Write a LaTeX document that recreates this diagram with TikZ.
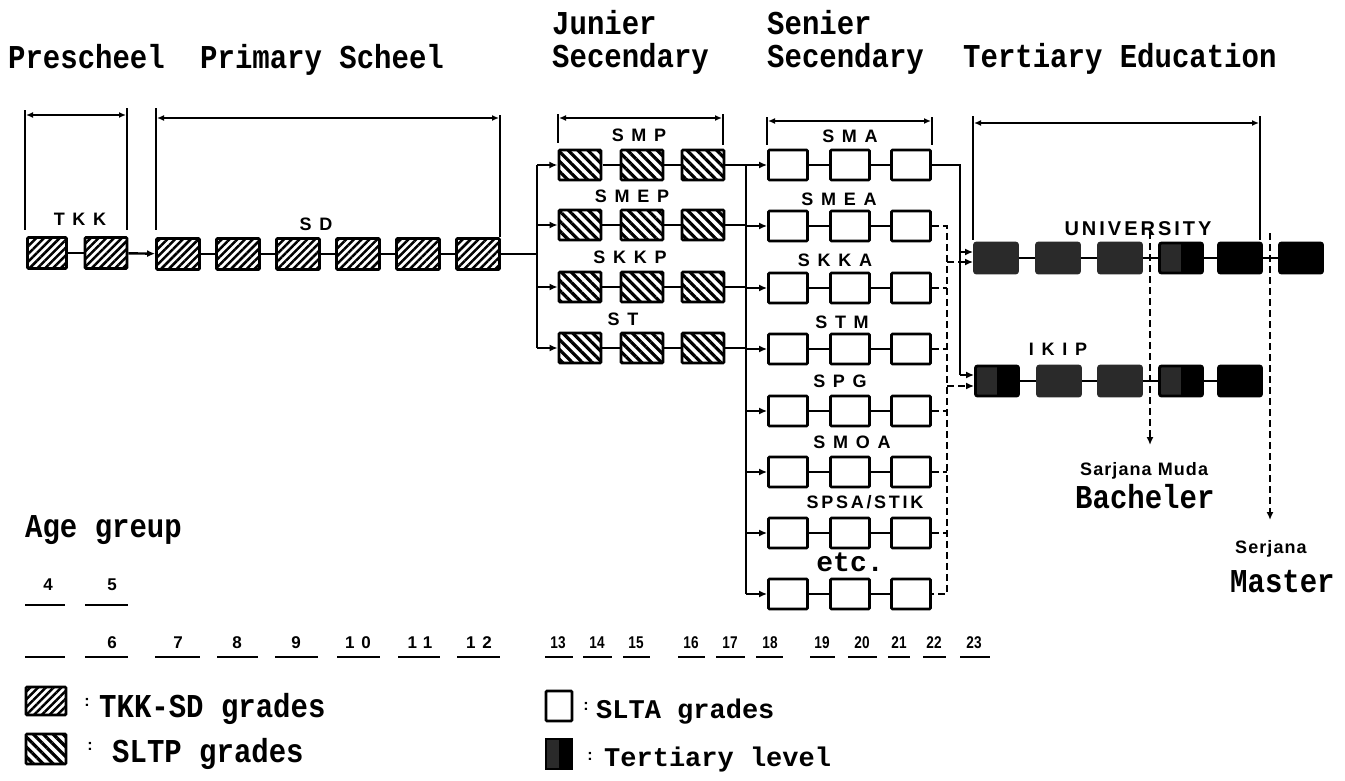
\documentclass[tikz,border=0pt]{standalone}
\usepackage{fontspec}
\usepackage{graphicx}
\setmainfont{Liberation Serif}
\newfontfamily\tw{Liberation Mono}
\newfontfamily\sa{Liberation Sans}
\usetikzlibrary{arrows.meta,patterns.meta}
\definecolor{tdark}{HTML}{2A2A2A}
\newcommand{\tallt}[1]{\scalebox{1}[1.15]{#1}}
\begin{document}
\begin{tikzpicture}[x=1pt,y=-1pt,
  hdr/.style={font=\tw\bfseries\fontsize{29}{30}\selectfont, anchor=base west, inner sep=0pt},
  lgs/.style={font=\tw\bfseries\fontsize{27}{28}\selectfont, anchor=base west, inner sep=0pt},
  lab/.style={font=\sa\bfseries\fontsize{18}{18}\selectfont\addfontfeature{LetterSpace=15}, anchor=base, inner sep=0pt},
  num/.style={font=\sa\bfseries\fontsize{17}{17}\selectfont, anchor=base, inner sep=0pt},
  cln/.style={font=\sa\bfseries\fontsize{16}{16}\selectfont, anchor=base, inner sep=0pt},
  bx/.style={draw=black, line width=2.8pt, inner sep=0pt, rounded corners=1pt, minimum height=30pt},
  tk/.style={bx, minimum width=42pt, minimum height=31pt, preaction={fill=white}, pattern={Lines[angle=45,distance=5.5pt,line width=2.5pt]}, pattern color=black},
  sl/.style={bx, minimum width=42pt, preaction={fill=white}, pattern={Lines[angle=-45,distance=7pt,line width=3.2pt]}, pattern color=black},
  sa/.style={bx, minimum width=39pt, fill=white},
  te/.style={bx, minimum width=43pt, minimum height=30pt, fill=tdark, draw=tdark, rounded corners=2pt},
  tb/.style={te, fill=black, draw=black},
  ts/.style={te, draw=black, path picture={\fill[black] (path picture bounding box.south) rectangle (path picture bounding box.north east);}},
  ln/.style={line width=2.4pt},
  ar/.style={ln, -{Latex[length=8pt,width=7pt]}},
  dl/.style={line width=2.4pt, dash pattern=on 7pt off 4pt},
  da/.style={dl, -{Latex[length=8pt,width=7pt]}},
  br/.style={line width=2.3pt},
  bra/.style={br, {Latex[length=7pt,width=6pt]}-{Latex[length=7pt,width=6pt]}},
  ul/.style={line width=2.4pt}
]
\useasboundingbox (0,0) rectangle (1345,780);

% ---------- headers ----------
\node[hdr] (hPre) at (8,68) {\tallt{Prescheel}};
\node[hdr] (hPri) at (200,68) {\tallt{Primary Scheel}};
\node[hdr] (hJun1) at (552,34) {\tallt{Junier}};
\node[hdr] (hJun2) at (552,67) {\tallt{Secendary}};
\node[hdr] (hSen1) at (767,34) {\tallt{Senier}};
\node[hdr] (hSen2) at (767,67) {\tallt{Secendary}};
\node[hdr] (hTer) at (963,67) {\tallt{Tertiary Education}};

% ---------- brackets ----------
\draw[br] (25,110) -- (25,230);
\draw[br] (127,108) -- (127,230);
\draw[bra] (26,115) -- (126,115);
\draw[br] (156,108) -- (156,230);
\draw[br] (500,115) -- (500,237);
\draw[bra] (157,118) -- (499,118);
\draw[br] (558,114) -- (558,143);
\draw[br] (723,114) -- (723,145);
\draw[bra] (559,118) -- (722,118);
\draw[br] (767,117) -- (767,145);
\draw[br] (932,117) -- (932,145);
\draw[bra] (768,121) -- (931,121);
\draw[br] (973,116) -- (973,240);
\draw[br] (1260,116) -- (1260,240);
\draw[bra] (974,123) -- (1259,123);

% ---------- preschool / primary ----------
\node[tk, minimum width=39pt] (tkk1) at (47,253) {};
\node[tk] (tkk2) at (106,253) {};
\foreach \i/\x in {1/178,2/238,3/298,4/358,5/418,6/478}
  \node[tk, minimum width=43pt] (sd\i) at (\x,254) {};
\node[lab] (lTKK) at (80,225) {T K K};
\node[lab] (lSD) at (316,230) {S D};
\draw[ln] (tkk1) -- (tkk2);
\draw[ar] (tkk2) -- (sd1);
\foreach \a/\b in {1/2,2/3,3/4,4/5,5/6} \draw[ln] (sd\a) -- (sd\b);

% ---------- junior secondary ----------
\foreach \r/\y in {smp/165,smep/225,skkp/287,st/348} {
  \foreach \i/\x in {1/580,2/642,3/703} \node[sl] (\r\i) at (\x,\y) {};
  \draw[ln] (\r1) -- (\r2);
  \draw[ln] (\r2) -- (\r3);
}
\node[lab] (lSMP) at (639,141) {S M P};
\node[lab] (lSMEP) at (632,202) {S M E P};
\node[lab] (lSKKP) at (630,263) {S K K P};
\node[lab] (lST) at (623,325) {S T};
\coordinate (jA) at (537,254);
\coordinate (jAt) at (537,165);
\coordinate (jAb) at (537,348);
\draw[ln] (sd6) -- (jA);
\draw[ln] (jAt) -- (jAb);
\foreach \r in {smp,smep,skkp,st} \draw[ar] (jA |- \r1) -- (\r1);

% ---------- senior secondary ----------
\foreach \r/\y in {sma/165,smea/226,skka/288,stm/349,spg/411,smoa/472,spsa/533,etcr/594} {
  \foreach \i/\x in {1/788,2/850,3/911} \node[sa] (\r\i) at (\x,\y) {};
  \draw[ln] (\r1) -- (\r2);
  \draw[ln] (\r2) -- (\r3);
}
\node[lab] (lSMA) at (850,142) {S M A};
\node[lab] (lSMEA) at (839,205) {S M E A};
\node[lab] (lSKKA) at (835,266) {S K K A};
\node[lab] (lSTM) at (842,328) {S T M};
\node[lab] (lSPG) at (840,387) {S P G};
\node[lab] (lSMOA) at (852,448) {S M O A};
\node[lab] (lSPSA) at (865,508) {SPSA/STIK};
\node[font=\tw\bfseries\fontsize{28}{28}\selectfont, anchor=base, inner sep=0pt] (lEtc) at (850,571) {etc.};

\coordinate (jB) at (746,165);
\coordinate (jBb) at (746,594);
\draw[ar] (smp3) -- (sma1);
\draw[ln] (jB) -- (jBb);
\foreach \r in {smep,skkp,st} \draw[ln] (\r3) -- (jB |- \r3);
\foreach \r in {smea,skka,stm,spg,smoa,spsa,etcr} \draw[ar] (jB |- \r1) -- (\r1);

% ---------- tertiary ----------
\node[te] (uni1) at (996,258) {};
\node[te] (uni2) at (1058,258) {};
\node[te] (uni3) at (1120,258) {};
\node[ts] (uni4) at (1181,258) {};
\node[tb] (uni5) at (1240,258) {};
\node[tb] (uni6) at (1301,258) {};
\node[ts] (ikip1) at (997,381) {};
\node[te] (ikip2) at (1059,381) {};
\node[te] (ikip3) at (1120,381) {};
\node[ts] (ikip4) at (1181,381) {};
\node[tb] (ikip5) at (1240,381) {};
\foreach \a/\b in {1/2,2/3,3/4,4/5,5/6} \draw[ln] (uni\a) -- (uni\b);
\foreach \a/\b in {1/2,2/3,3/4,4/5} \draw[ln] (ikip\a) -- (ikip\b);
\node[lab, font=\sa\bfseries\fontsize{20}{20}\selectfont\addfontfeature{LetterSpace=15}] (lUNI) at (1138,235) {UNIVERSITY};
\node[lab] (lIKIP) at (1058,355) {I K I P};

\coordinate (kA) at (960,165);
\coordinate (kU) at (960,252);
\coordinate (kB) at (960,375);
\draw[ln] (sma3) -- (kA) -- (kB);
\draw[ar] (kU) -- (uni1.west |- kU);
\draw[ar] (kB) -- (ikip1.west |- kB);

\coordinate (dA) at (947,226);
\coordinate (dU) at (947,262);
\coordinate (dI) at (947,386);
\coordinate (dB) at (947,594);
\draw[dl] (smea3) -- (dA) -- (dB) -- (etcr3);
\foreach \r in {skka,stm,spg,smoa,spsa} \draw[dl] (\r3) -- (dA |- \r3);
\draw[da] (dU) -- (uni1.west |- dU);
\draw[da] (dI) -- (ikip1.west |- dI);

% degrees
\coordinate (bT) at (1150,232);
\coordinate (bE) at (1150,445);
\draw[da] (bT) -- (bE);
\coordinate (mT) at (1270,233);
\coordinate (mE) at (1270,520);
\draw[da] (mT) -- (mE);
\node[font=\sa\bfseries\fontsize{18}{18}\selectfont\addfontfeature{LetterSpace=6}, anchor=base west, inner sep=0pt] (lSM) at (1080,475) {Sarjana Muda};
\node[hdr] (lBach) at (1075,508) {\tallt{Bacheler}};
\node[font=\sa\bfseries\fontsize{18}{18}\selectfont\addfontfeature{LetterSpace=6}, anchor=base west, inner sep=0pt] (lSj) at (1235,553) {Serjana};
\node[hdr] (lMas) at (1230,592) {\tallt{Master}};

% ---------- age groups ----------
\node[hdr] (lAge) at (25,537) {\tallt{Age greup}};
\node[num] (a4) at (48,590) {4};
\node[num] (a5) at (112,590) {5};
\draw[ul] (25,605) -- (65,605);
\draw[ul] (85,605) -- (128,605);
\foreach \n/\x/\l/\r in {6/112/85/128,7/178/155/200,8/237/217/258,9/296/275/318}
  {\node[num] (a\n) at (\x,648) {\n}; \draw[ul] (\l,657) -- (\r,657);}
\foreach \n/\x/\l/\r in {10/358/337/380,11/420/398/440,12/479/457/500}
  {\node[num, font=\sa\bfseries\fontsize{17}{17}\selectfont\addfontfeature{LetterSpace=40}] (a\n) at (\x,648) {\n}; \draw[ul] (\l,657) -- (\r,657);}
\draw[ul] (25,657) -- (65,657);
\foreach \n/\x/\l/\r in {13/558/545/573,14/597/583/612,15/636/623/650,16/691/678/705,17/730/716/745,18/770/756/783,19/822/810/835,20/862/848/877,21/899/888/910,22/934/923/946,23/974/960/990}
  {\node[num] (a\n) at (\x,648) {\scalebox{0.8}[1]{\n}}; \draw[ul] (\l,657) -- (\r,657);}

% ---------- legend ----------
\node[tk, minimum width=40pt, minimum height=28pt] (lgA) at (46,701) {};
\node[sl, minimum width=40pt, minimum height=30pt] (lgB) at (46,749) {};
\node[sa, minimum width=26pt, minimum height=30pt] (lgC) at (559,706) {};
\node[ts, minimum width=26pt, minimum height=30pt, rounded corners=0pt] (lgD) at (559,754) {};
\node[cln] (cA) at (87,706) {:};
\node[cln] (cB) at (90,750) {:};
\node[cln] (cC) at (586,710) {:};
\node[cln] (cD) at (590,760) {:};
\node[hdr] (tA) at (99,717) {\tallt{TKK-SD grades}};
\node[hdr] (tB) at (112,762) {\tallt{SLTP grades}};
\node[lgs] (tC) at (596,718) {SLTA grades};
\node[lgs] (tD) at (604,766) {Tertiary level};
\end{tikzpicture}
\end{document}
